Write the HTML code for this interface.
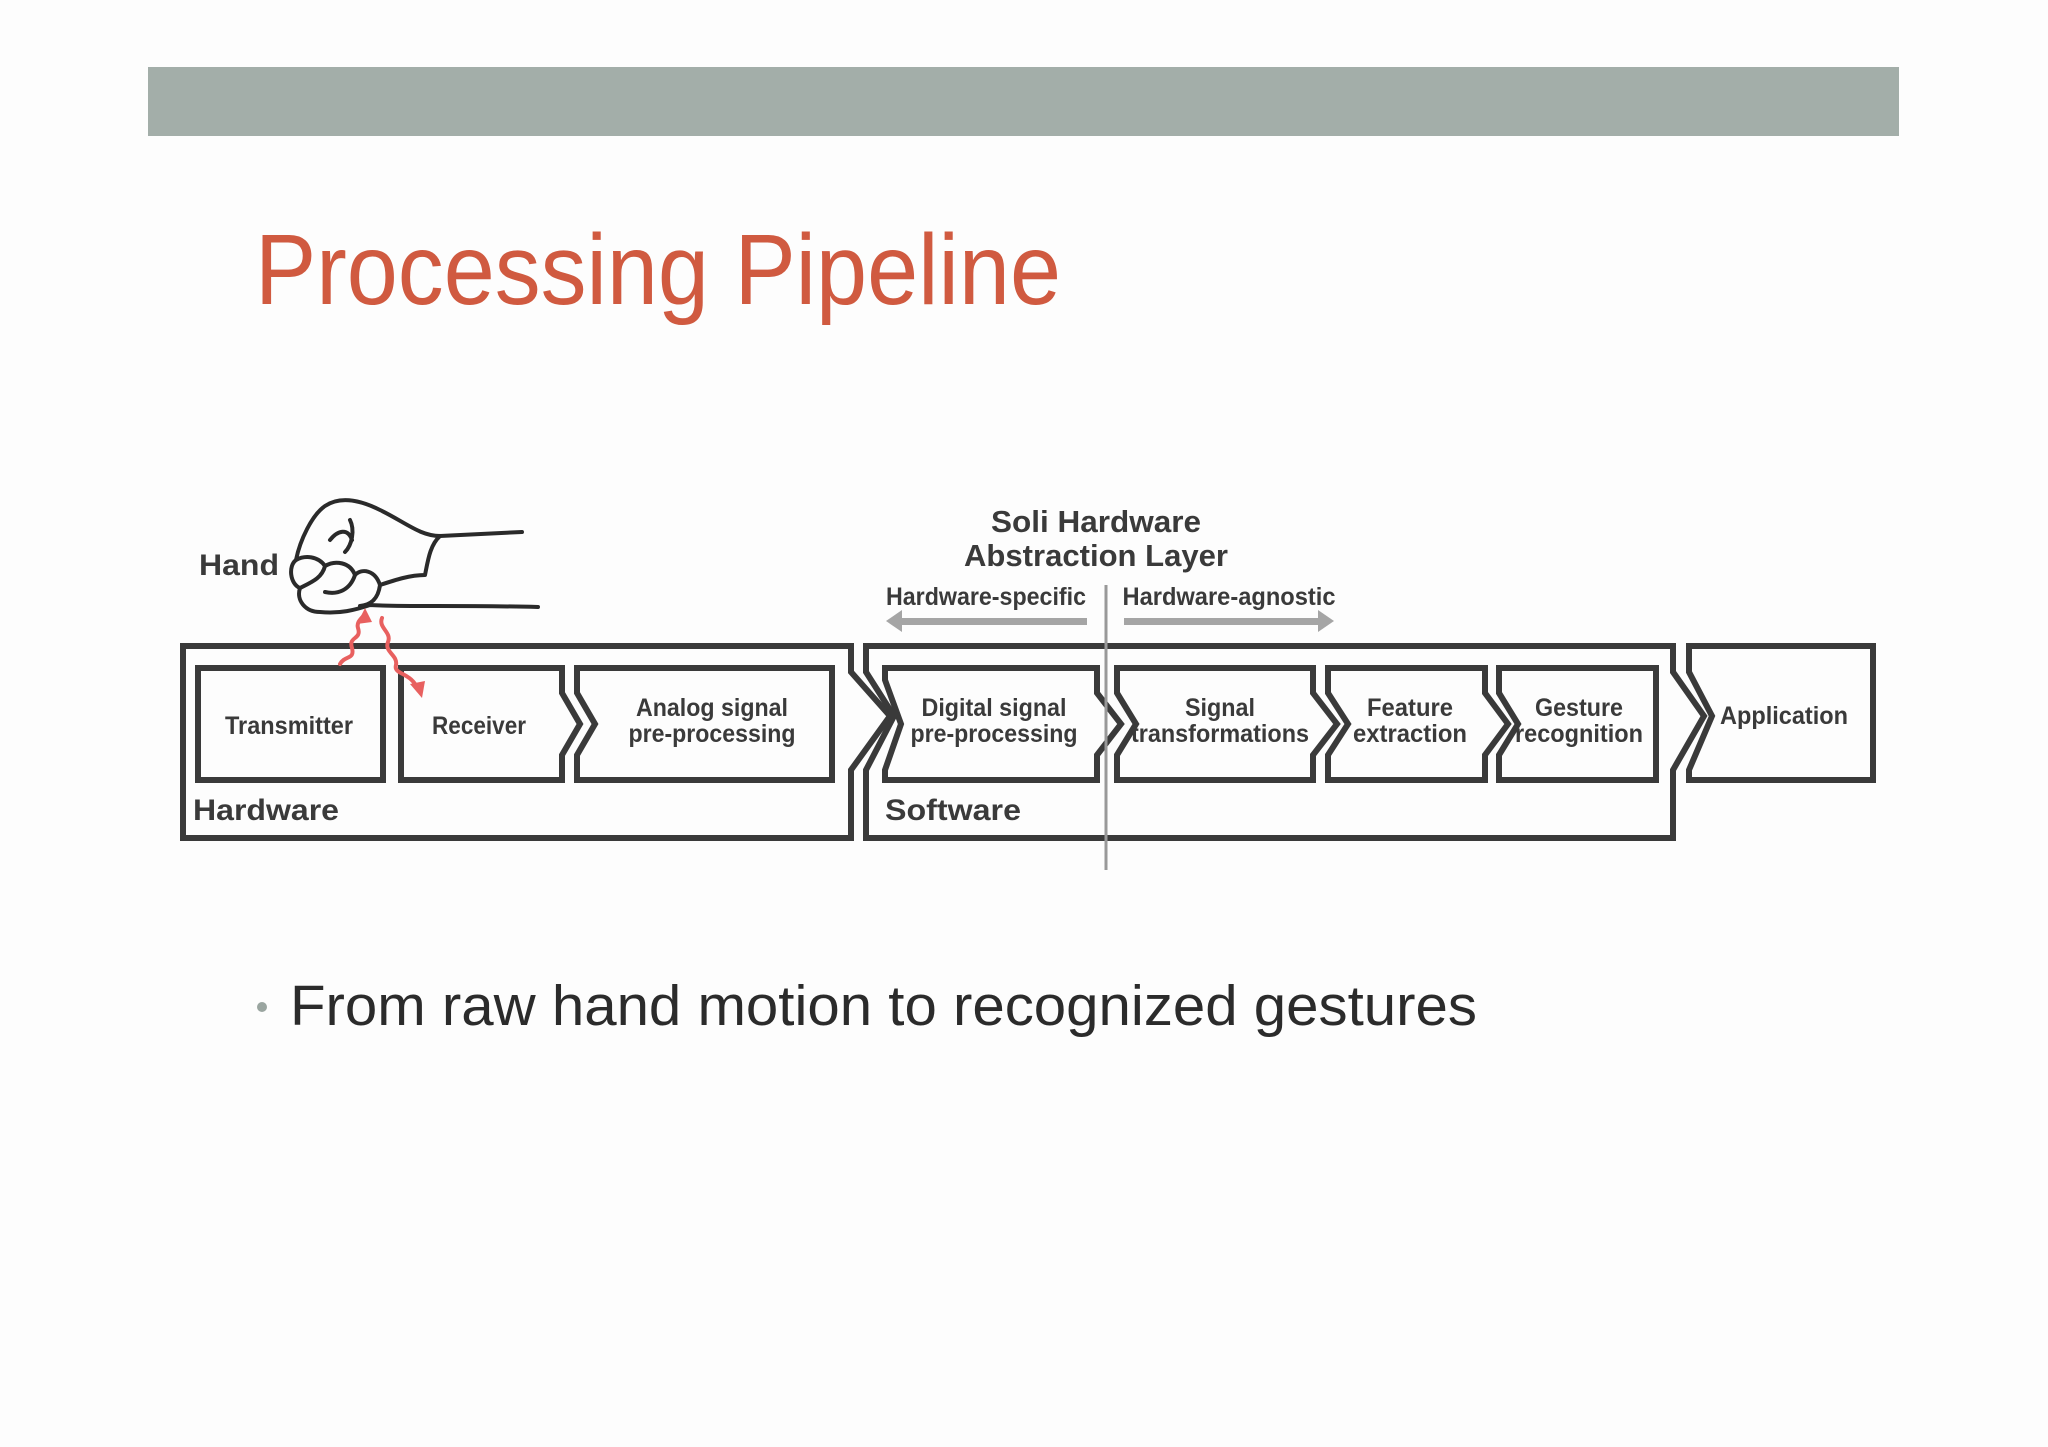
<!DOCTYPE html>
<html><head><meta charset="utf-8"><style>
html,body{margin:0;padding:0;background:#fdfdfd}
svg{display:block}
</style></head><body>
<svg width="2048" height="1447" viewBox="0 0 2048 1447" xmlns="http://www.w3.org/2000/svg" font-family="'Liberation Sans', sans-serif">
<rect x="0" y="0" width="2048" height="1447" fill="#fdfdfd"/>
<rect x="148" y="67" width="1751" height="69" fill="#a3aea9"/>
<text x="255" y="304" font-size="100" fill="#d05a40" textLength="806" lengthAdjust="spacingAndGlyphs">Processing Pipeline</text>

<g fill="none" stroke="#3a3a3a" stroke-width="6" stroke-linejoin="miter">
  <polygon points="183,646 851,646 851,672 890,716 851,770 851,838 183,838"/>
  <polygon points="866,646 1673,646 1673,672 1704,716 1673,770 1673,838 866,838 866,770 894,716 866,672"/>
  <polygon points="1689,646 1873,646 1873,780 1689,780 1689,770 1712,716 1689,672"/>
  <rect x="198" y="668" width="185" height="112"/>
  <polygon points="401,668 562,668 562,693 580,724 562,755 562,780 401,780"/>
  <polygon points="577,668 832,668 832,780 577,780 577,755 595,724 577,693"/>
  <polygon points="885,668 1097,668 1097,693 1121,724 1097,755 1097,780 885,780 885,770 901,724 885,680"/>
  <polygon points="1117,668 1313,668 1313,693 1337,724 1313,755 1313,780 1117,780 1117,755 1136,724 1117,693"/>
  <polygon points="1328,668 1485,668 1485,693 1508,724 1485,755 1485,780 1328,780 1328,755 1348,724 1328,693"/>
  <polygon points="1499,668 1656,668 1656,780 1499,780 1499,755 1518,724 1499,693"/>
</g>

<line x1="1106" y1="585" x2="1106" y2="870" stroke="#999" stroke-width="3"/>
<g fill="#a5a5a5" stroke="none">
  <rect x="898" y="618" width="189" height="7"/>
  <polygon points="886,621 902,610 902,632"/>
  <rect x="1124" y="618" width="196" height="7"/>
  <polygon points="1334,621 1318,610 1318,632"/>
</g>

<g fill="#3a3a3a" font-weight="bold" font-size="31" text-anchor="middle">
  <text x="1096" y="532" textLength="210" lengthAdjust="spacingAndGlyphs">Soli Hardware</text>
  <text x="1096" y="566" textLength="264" lengthAdjust="spacingAndGlyphs">Abstraction Layer</text>
</g>
<g fill="#3a3a3a" font-size="25" font-weight="bold" text-anchor="middle" lengthAdjust="spacingAndGlyphs">
  <text x="986" y="605" textLength="200" lengthAdjust="spacingAndGlyphs">Hardware-specific</text>
  <text x="1229" y="605" textLength="213" lengthAdjust="spacingAndGlyphs">Hardware-agnostic</text>
  <text x="289" y="734" textLength="128" lengthAdjust="spacingAndGlyphs">Transmitter</text>
  <text x="479" y="734" textLength="94" lengthAdjust="spacingAndGlyphs">Receiver</text>
  <text x="712" y="716" textLength="152" lengthAdjust="spacingAndGlyphs">Analog signal</text>
  <text x="712" y="742" textLength="167" lengthAdjust="spacingAndGlyphs">pre-processing</text>
  <text x="994" y="716" textLength="145" lengthAdjust="spacingAndGlyphs">Digital signal</text>
  <text x="994" y="742" textLength="167" lengthAdjust="spacingAndGlyphs">pre-processing</text>
  <text x="1220" y="716" textLength="70" lengthAdjust="spacingAndGlyphs">Signal</text>
  <text x="1220" y="742" textLength="178" lengthAdjust="spacingAndGlyphs">transformations</text>
  <text x="1410" y="716" textLength="86" lengthAdjust="spacingAndGlyphs">Feature</text>
  <text x="1410" y="742" textLength="114" lengthAdjust="spacingAndGlyphs">extraction</text>
  <text x="1579" y="716" textLength="88" lengthAdjust="spacingAndGlyphs">Gesture</text>
  <text x="1579" y="742" textLength="128" lengthAdjust="spacingAndGlyphs">recognition</text>
  <text x="1784" y="724" textLength="128" lengthAdjust="spacingAndGlyphs">Application</text>
</g>
<g fill="#3a3a3a" font-weight="bold" font-size="30">
  <text x="193" y="820" textLength="146" lengthAdjust="spacingAndGlyphs">Hardware</text>
  <text x="885" y="820" textLength="136" lengthAdjust="spacingAndGlyphs">Software</text>
  <text x="199" y="575" textLength="80" lengthAdjust="spacingAndGlyphs">Hand</text>
</g>

<g fill="none" stroke="#2a2a2a" stroke-width="4" stroke-linecap="round" stroke-linejoin="round">
  <path d="M522,532 L440,536 C420,536 405,522 380,510 C360,500 340,496 325,506 C312,515 300,540 296,560 C288,566 290,584 300,588 C296,600 305,612 320,612 C340,614 355,610 370,605 C400,607 460,605 538,607"/>
  <path d="M440,536 C430,545 428,560 425,575 C410,575 395,580 380,585"/>
  <path d="M296,560 C305,555 318,556 325,566 C322,578 312,582 300,588"/>
  <path d="M325,566 C335,560 350,562 355,575 C350,590 338,595 325,592"/>
  <path d="M355,575 C362,568 375,570 380,585 C378,600 370,605 360,606"/>
  <path d="M330,540 C338,530 348,528 352,540"/>
  <path d="M350,520 C355,530 352,545 345,552"/>
</g>
<g fill="none" stroke="#e8605f" stroke-width="4" stroke-linecap="round">
  <path d="M340,664 C345,655 355,660 352,648 C348,636 362,640 358,628 C356,622 362,618 365,614"/>
  <path d="M382,618 C378,628 392,632 388,642 C384,652 398,655 396,665 C393,675 412,672 418,690"/>
</g>
<polygon points="365,608 357,624 372,622" fill="#e8605f"/>
<polygon points="422,698 410,684 425,681" fill="#e8605f"/>

<circle cx="262" cy="1007" r="5" fill="#9aa5a0"/>
<text x="290" y="1025" font-size="57" fill="#2b2b2b" textLength="1187" lengthAdjust="spacingAndGlyphs">From raw hand motion to recognized gestures</text>
</svg>
</body></html>
